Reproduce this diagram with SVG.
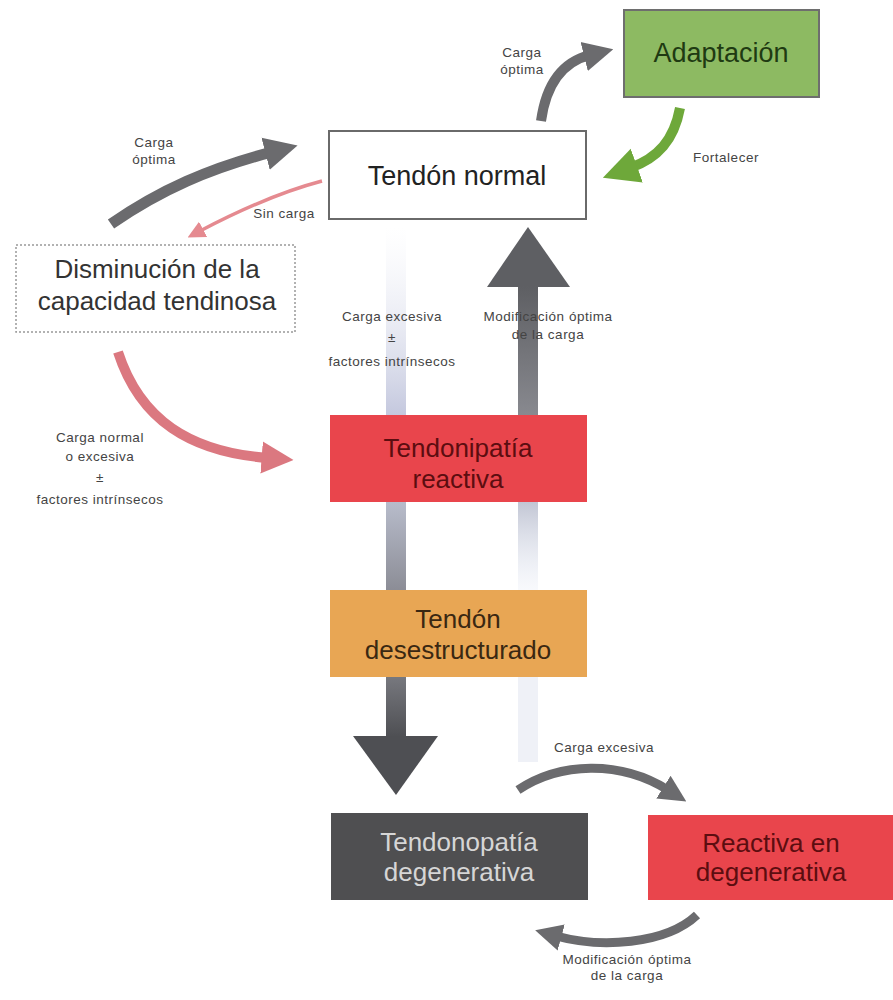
<svg xmlns="http://www.w3.org/2000/svg" width="893" height="1000" viewBox="0 0 893 1000">
<defs>
<style>
text{font-family:"Liberation Sans",Arial,sans-serif;text-anchor:middle}
.big{font-size:26px}
.lbl{font-size:13.5px;fill:#444;letter-spacing:0.5px}
</style>
<linearGradient id="gL1" x1="0" y1="0" x2="0" y2="1"><stop offset="0" stop-color="#e8eaf4" stop-opacity="0"/><stop offset="1" stop-color="#c4c8de"/></linearGradient>
<linearGradient id="gL2" x1="0" y1="0" x2="0" y2="1"><stop offset="0" stop-color="#b8bccb"/><stop offset="1" stop-color="#8c8d96"/></linearGradient>
<linearGradient id="gL3" x1="0" y1="0" x2="0" y2="1"><stop offset="0" stop-color="#77787e"/><stop offset="1" stop-color="#4e4f53"/></linearGradient>
<linearGradient id="gR1" x1="0" y1="0" x2="0" y2="1"><stop offset="0" stop-color="#5e5f63"/><stop offset="1" stop-color="#88898f"/></linearGradient>
<linearGradient id="gR2" x1="0" y1="0" x2="0" y2="1"><stop offset="0" stop-color="#c2c6d4"/><stop offset="1" stop-color="#e8ecf6" stop-opacity="0.3"/></linearGradient>
<marker id="mGray" viewBox="0 0 10 10" refX="2" refY="5" markerWidth="3" markerHeight="3.4" orient="auto" markerUnits="strokeWidth"><path d="M0,0 L10,5 L0,10 Z" fill="#6b6b6e"/></marker>
<marker id="mPink" viewBox="0 0 10 10" refX="2" refY="5" markerWidth="3.2" markerHeight="3.6" orient="auto" markerUnits="strokeWidth"><path d="M0,0 L10,5 L0,10 Z" fill="#db7880"/></marker>
<marker id="mPinkThin" viewBox="0 0 10 10" refX="2" refY="5" markerWidth="5" markerHeight="6" orient="auto" markerUnits="strokeWidth"><path d="M0,0 L10,5 L0,10 Z" fill="#e58a90"/></marker>
<marker id="mGreen" viewBox="0 0 10 10" refX="2" refY="5" markerWidth="3.6" markerHeight="3.8" orient="auto" markerUnits="strokeWidth"><path d="M0,0 L10,5 L0,10 Z" fill="#6ea83a"/></marker>
</defs>
<rect width="893" height="1000" fill="#ffffff"/>

<g id="connectors">
  <rect x="386" y="228" width="20" height="187" fill="url(#gL1)"/>
  <rect x="386" y="502" width="20" height="88" fill="url(#gL2)"/>
  <rect x="386" y="677" width="20" height="60" fill="url(#gL3)"/>
  <path d="M353,736 L438,736 L396,795 Z" fill="#4e4f53"/>
  <path d="M487,287 L570,287 L528,227 Z" fill="#5e5f63"/>
  <rect x="518" y="286" width="20" height="129" fill="url(#gR1)"/>
  <rect x="518" y="502" width="20" height="88" fill="url(#gR2)"/>
  <rect x="518" y="677" width="20" height="85" fill="#e4e8f2" opacity="0.6"/>
  <path d="M111,224 C160,190 210,168 272,152" fill="none" stroke="#6b6b6e" stroke-width="11" marker-end="url(#mGray)"/>
  <path d="M322,181 C280,192 240,210 200,231" fill="none" stroke="#e58a90" stroke-width="3.5" marker-end="url(#mPinkThin)"/>
  <path d="M118,352 C140,420 190,452 268,458" fill="none" stroke="#db7880" stroke-width="10" marker-end="url(#mPink)"/>
  <path d="M541,121 C546,85 562,62 590,55" fill="none" stroke="#6b6b6e" stroke-width="10" marker-end="url(#mGray)"/>
  <path d="M680,108 C674,140 658,158 630,168" fill="none" stroke="#6ea83a" stroke-width="10" marker-end="url(#mGreen)"/>
  <path d="M518,790 C560,762 620,760 668,790" fill="none" stroke="#6b6b6e" stroke-width="9" marker-end="url(#mGray)"/>
  <path d="M697,915 C665,945 600,948 556,936" fill="none" stroke="#6b6b6e" stroke-width="9" marker-end="url(#mGray)"/>
</g>

<g id="node-tendon-normal">
  <rect x="329" y="131" width="257" height="88" fill="#ffffff" stroke="#6a6a6a" stroke-width="2"/>
  <text x="457" y="185" font-size="27" fill="#222">Tendón normal</text>
</g>
<g id="node-adaptacion">
  <rect x="624" y="10" width="195" height="87" fill="#8dba62" stroke="#6e6e6e" stroke-width="2"/>
  <text x="721" y="62" font-size="27" fill="#1f3a12">Adaptación</text>
</g>
<g id="node-disminucion">
  <rect x="16" y="245" width="279" height="87" fill="#ffffff" stroke="#999" stroke-width="1.5" stroke-dasharray="2,2"/>
  <text class="big" x="157" y="278" fill="#333">Disminución de la</text>
  <text class="big" x="157" y="310" fill="#333">capacidad tendinosa</text>
</g>
<g id="node-reactiva">
  <rect x="330" y="415" width="257" height="87" fill="#e9454c"/>
  <text class="big" x="458" y="457" fill="#5c0d10">Tendonipatía</text>
  <text class="big" x="458" y="488" fill="#5c0d10">reactiva</text>
</g>
<g id="node-desestructurado">
  <rect x="330" y="590" width="257" height="87" fill="#e8a654"/>
  <text class="big" x="458" y="628" fill="#3a2812">Tendón</text>
  <text class="big" x="458" y="659" fill="#3a2812">desestructurado</text>
</g>
<g id="node-degenerativa">
  <rect x="331" y="813" width="257" height="87" fill="#4f4f51"/>
  <text class="big" x="459" y="851" fill="#d6d6d6">Tendonopatía</text>
  <text class="big" x="459" y="881" fill="#d6d6d6">degenerativa</text>
</g>
<g id="node-reactiva-degenerativa">
  <rect x="648" y="815" width="245" height="85" fill="#e9454c"/>
  <text class="big" x="771" y="852" fill="#5c0d10">Reactiva en</text>
  <text class="big" x="771" y="881" fill="#5c0d10">degenerativa</text>
</g>

<g id="labels">
  <text class="lbl" x="154" y="147">Carga</text>
  <text class="lbl" x="154" y="164">óptima</text>
  <text class="lbl" x="284" y="218">Sin carga</text>
  <text class="lbl" x="522" y="57">Carga</text>
  <text class="lbl" x="522" y="74">óptima</text>
  <text class="lbl" x="726" y="162">Fortalecer</text>
  <text class="lbl" x="392" y="321">Carga excesiva</text>
  <text class="lbl" x="392" y="342">±</text>
  <text class="lbl" x="392" y="366">factores intrínsecos</text>
  <text class="lbl" x="548" y="321">Modificación óptima</text>
  <text class="lbl" x="548" y="339">de la carga</text>
  <text class="lbl" x="100" y="442">Carga normal</text>
  <text class="lbl" x="100" y="461">o excesiva</text>
  <text class="lbl" x="100" y="482">±</text>
  <text class="lbl" x="100" y="504">factores intrínsecos</text>
  <text class="lbl" x="604" y="752">Carga excesiva</text>
  <text class="lbl" x="627" y="964">Modificación óptima</text>
  <text class="lbl" x="627" y="980">de la carga</text>
</g>
</svg>
